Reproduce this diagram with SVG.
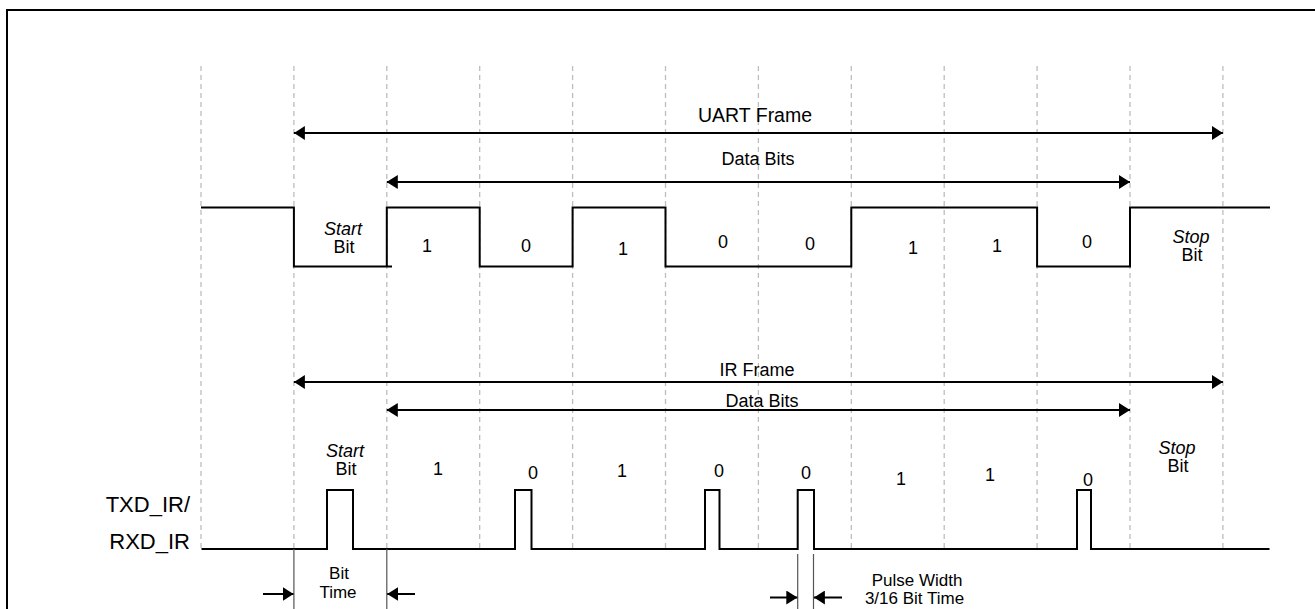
<svg xmlns="http://www.w3.org/2000/svg" width="1315" height="609" viewBox="0 0 1315 609">
<style>
.bg{fill:#fff}
.frame{fill:none;stroke:#000;stroke-width:2}
.grid{stroke:#bdbdbd;stroke-width:1.3;stroke-dasharray:5 4;fill:none}
.wave{fill:none;stroke:#000;stroke-width:2;stroke-linejoin:miter}
.arrow{stroke:#000;stroke-width:2;fill:none;marker-start:url(#ah);marker-end:url(#ah)}
.dim{stroke:#555;stroke-width:1.2;fill:none}
.dimarrow{stroke:#000;stroke-width:2;fill:none;marker-end:url(#ah)}
text{font-family:"Liberation Sans",Arial,Helvetica,sans-serif;fill:#000;text-anchor:middle}
.t18{font-size:18px}
.t17{font-size:17px}
.t19{font-size:19.5px}
.it{font-style:italic}
.sig{font-size:22px;text-anchor:end}
</style>
<defs>
<marker id="ah" viewBox="0 0 11 14" refX="11" refY="7" markerWidth="11" markerHeight="14" markerUnits="userSpaceOnUse" orient="auto-start-reverse">
<path d="M0,0 L11,7 L0,14 z" fill="#000"/>
</marker>
</defs>
<rect class="bg" x="0" y="0" width="1315" height="609"/>
<g id="frame">
<path class="frame" d="M7,612 V10 H1320"/>
</g>
<g id="grid">
<path class="grid" d="M201,66 V548 M293.9,66 V548 M386.8,66 V548 M479.7,66 V548 M572.6,66 V548 M665.5,66 V548 M758.4,66 V548 M851.3,66 V548 M944.2,66 V548 M1037.1,66 V548 M1130,66 V548 M1222.9,66 V548"/>
</g>
<g id="uart-wave">
<path class="wave" d="M201,207.5 H293.9 V266.5 H392 M386.8,266.5 V207.5 H479.7 V266.5 H572.6 V207.5 H665.5 V266.5 H851.3 V207.5 H1037.1 V266.5 H1130 V207.5 H1270"/>
<text class="t18 it" x="343" y="235">Start</text>
<text class="t18" x="344" y="253">Bit</text>
<text class="t18" x="427" y="252">1</text>
<text class="t18" x="526" y="252">0</text>
<text class="t18" x="623" y="255">1</text>
<text class="t18" x="723" y="248">0</text>
<text class="t18" x="810" y="250">0</text>
<text class="t18" x="913" y="254">1</text>
<text class="t18" x="997" y="252">1</text>
<text class="t18" x="1087" y="248">0</text>
<text class="t18 it" x="1191" y="243">Stop</text>
<text class="t18" x="1192" y="261">Bit</text>
</g>
<g id="ir-wave">
<path class="wave" d="M201.5,549 H327 V490 H353 V549 H515 V490 H531.5 V549 H705 V490 H719.5 V549 H797.7 V490 H814 V549 H1077 V490 H1091 V549 H1269.5"/>
<text class="t18 it" x="345" y="457">Start</text>
<text class="t18" x="346" y="475">Bit</text>
<text class="t18" x="438" y="475">1</text>
<text class="t18" x="533" y="479">0</text>
<text class="t18" x="622" y="477">1</text>
<text class="t18" x="719" y="477">0</text>
<text class="t18" x="806" y="479">0</text>
<text class="t18" x="901" y="485">1</text>
<text class="t18" x="990" y="481">1</text>
<text class="t18" x="1088" y="486">0</text>
<text class="t18 it" x="1177" y="454">Stop</text>
<text class="t18" x="1178" y="472">Bit</text>
</g>
<g id="signal-label">
<text class="sig" x="190" y="512">TXD_IR/</text>
<text class="sig" x="190" y="549">RXD_IR</text>
</g>
<g id="connectors">
<line class="arrow" x1="293.9" y1="133" x2="1222.9" y2="133"/>
<line class="arrow" x1="386.8" y1="182" x2="1130" y2="182"/>
<line class="arrow" x1="293.9" y1="382" x2="1222.9" y2="382"/>
<line class="arrow" x1="386.8" y1="410" x2="1130" y2="410"/>
<path class="dim" d="M293.9,549 V612 M386.8,549 V612 M797.7,554 V612 M813.5,554 V612"/>
<line class="dimarrow" x1="263" y1="594" x2="293.5" y2="594"/>
<line class="dimarrow" x1="415" y1="594" x2="387.2" y2="594"/>
<line class="dimarrow" x1="770" y1="597.5" x2="797.3" y2="597.5"/>
<line class="dimarrow" x1="842" y1="597.5" x2="813.9" y2="597.5"/>
</g>
<g id="frame-labels">
<text class="t19" x="755" y="122">UART Frame</text>
<text class="t18" x="758" y="165">Data Bits</text>
<text class="t18" x="757" y="376">IR Frame</text>
<text class="t18" x="762" y="407">Data Bits</text>
<text class="t17" x="339" y="579">Bit</text>
<text class="t17" x="338" y="598">Time</text>
<text class="t17" x="917" y="586">Pulse Width</text>
<text class="t17" x="914.5" y="604">3/16 Bit Time</text>
</g>
</svg>
